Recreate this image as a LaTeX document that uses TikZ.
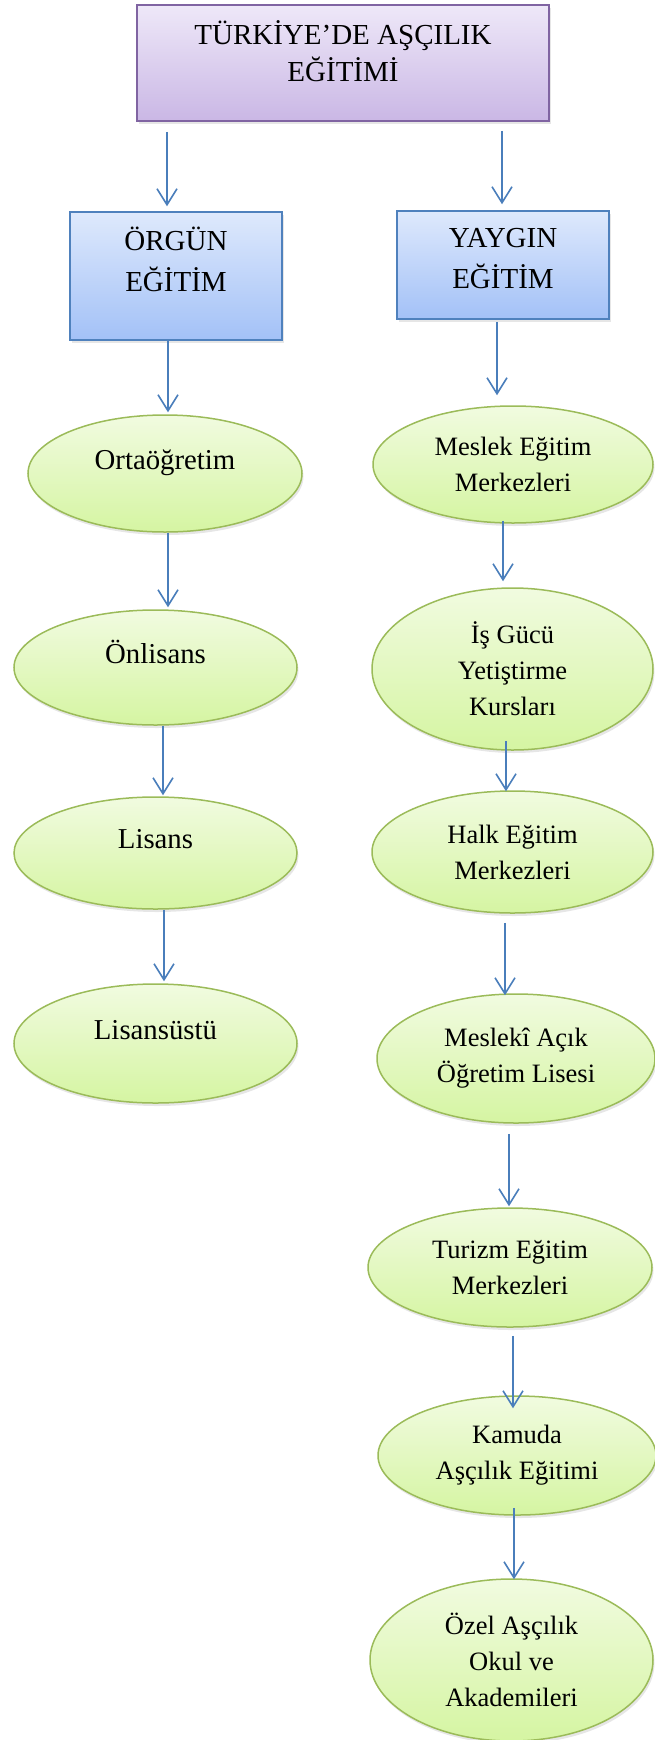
\documentclass[tikz,border=0pt]{standalone}
\usepackage{fontspec}
\setmainfont{Liberation Serif}
\usetikzlibrary{shapes.geometric,arrows.meta,shadows}

\definecolor{titletop}{RGB}{238,232,248}
\definecolor{titlebot}{RGB}{202,183,229}
\definecolor{titleline}{RGB}{128,100,162}
\definecolor{boxtop}{RGB}{222,233,252}
\definecolor{boxbot}{RGB}{163,193,247}
\definecolor{boxline}{RGB}{79,129,189}
\definecolor{ovaltop}{RGB}{241,251,224}
\definecolor{ovalbot}{RGB}{213,245,162}
\definecolor{ovalline}{RGB}{155,187,89}
\definecolor{arrowblue}{RGB}{74,126,187}

\tikzset{
  softshadow/.style={drop shadow={shadow xshift=1.5pt, shadow yshift=-3pt, opacity=0.2}},
  titlebox/.style={rectangle, draw=titleline, line width=1.5pt, top color=titletop,
    bottom color=titlebot, inner sep=0pt, softshadow},
  levelbox/.style={rectangle, draw=boxline, line width=1.5pt, top color=boxtop,
    bottom color=boxbot, inner sep=0pt, softshadow},
  boxtxt/.style={align=center, font=\fontsize{29}{41}\selectfont},
  oval/.style={ellipse, draw=ovalline, line width=1.5pt, top color=ovaltop,
    bottom color=ovalbot, inner sep=0pt, align=center,
    font=\fontsize{26.5}{36}\selectfont, softshadow},
  ovalleft/.style={oval, font=\fontsize{28.8}{36}\selectfont, text height=20pt, text depth=28.8pt},
  arr/.style={draw=arrowblue, line width=1.6pt, -{Straight Barb[length=16pt,width=20pt]}}
}

\begin{document}
\begin{tikzpicture}[x=1pt,y=-1pt]
  \useasboundingbox (0,0) rectangle (654,1740);

  % top of the tree
  \node[titlebox, minimum width=412pt, minimum height=116pt,
    label={[boxtxt, font=\fontsize{29}{37}\selectfont, yshift=12pt]center:{TÜRKİYE’DE AŞÇILIK\\EĞİTİMİ}}]
    (title) at (343,63) {};

  \node[levelbox, minimum width=212pt, minimum height=128pt,
    label={[boxtxt, yshift=17pt]center:{ÖRGÜN\\EĞİTİM}}] (orgun) at (176,276) {};
  \node[levelbox, minimum width=212pt, minimum height=108pt,
    label={[boxtxt, yshift=6.5pt]center:{YAYGIN\\EĞİTİM}}] (yaygin) at (503,265) {};

  % left column
  \node[ovalleft, minimum width=274pt, minimum height=117pt] (orta) at (165,473.5) {Ortaöğretim};
  \node[ovalleft, minimum width=283pt, minimum height=115pt] (onlisans) at (155.5,667.5) {Önlisans};
  \node[ovalleft, minimum width=283pt, minimum height=112pt] (lisans) at (155.5,853) {Lisans};
  \node[ovalleft, minimum width=283pt, minimum height=119pt] (lisansustu) at (155.5,1043.5) {Lisansüstü};

  % right column
  \node[oval, minimum width=280pt, minimum height=117pt] (meslek) at (513,464.5) {Meslek Eğitim\\Merkezleri};
  \node[oval, minimum width=281pt, minimum height=162pt] (isgucu) at (512.5,669) {İş Gücü\\Yetiştirme\\Kursları};
  \node[oval, minimum width=281pt, minimum height=122pt] (halk) at (512.5,852) {Halk Eğitim\\Merkezleri};
  \node[oval, minimum width=278pt, minimum height=129pt] (acik) at (516,1058.5) {Meslekî Açık\\Öğretim Lisesi};
  \node[oval, minimum width=284pt, minimum height=119pt] (turizm) at (510,1267.5) {Turizm Eğitim\\Merkezleri};
  \node[oval, minimum width=278pt, minimum height=119pt] (kamu) at (517,1455.5) {Kamuda\\Aşçılık Eğitimi};
  \node[oval, minimum width=283pt, minimum height=162pt] (ozel) at (511.5,1660) {Özel Aşçılık\\Okul ve\\Akademileri};

  % arrows
  \draw[arr, shorten <=10pt, shorten >=5pt] (title.south -| 167,0) -- (orgun.north -| 167,0);
  \draw[arr, shorten <=9pt, shorten >=6pt] (title.south -| 502,0) -- (yaygin.north -| 502,0);

  \draw[arr, shorten >=2pt] (orgun.south -| 168,0) -- (orta.north -| 168,0);
  \draw[arr, shorten >=2pt] (orta.south -| 168,0) -- (onlisans.north -| 168,0);
  \draw[arr, shorten >=1pt] (onlisans.south -| 163,0) -- (lisans.north -| 163,0);
  \draw[arr, shorten >=2pt] (lisans.south -| 164,0) -- (lisansustu.north -| 164,0);

  \draw[arr, shorten <=2pt, shorten >=10pt] (yaygin.south -| 497,0) -- (meslek.north -| 497,0);
  \draw[arr, shorten <=-3pt, shorten >=6pt] (meslek.south -| 503,0) -- (isgucu.north -| 503,0);
  \draw[arr, shorten <=-10pt, shorten >=-1pt] (isgucu.south -| 506,0) -- (halk.north -| 506,0);
  \draw[arr, shorten <=9pt, shorten >=-2pt] (halk.south -| 505,0) -- (acik.north -| 505,0);
  \draw[arr, shorten <=10pt, shorten >=1pt] (acik.south -| 509,0) -- (turizm.north -| 509,0);
  \draw[arr, shorten <=8pt, shorten >=-13pt] (turizm.south -| 513,0) -- (kamu.north -| 513,0);
  \draw[arr, shorten <=-8pt, shorten >=-1pt] (kamu.south -| 514,0) -- (ozel.north -| 514,0);
\end{tikzpicture}
\end{document}
